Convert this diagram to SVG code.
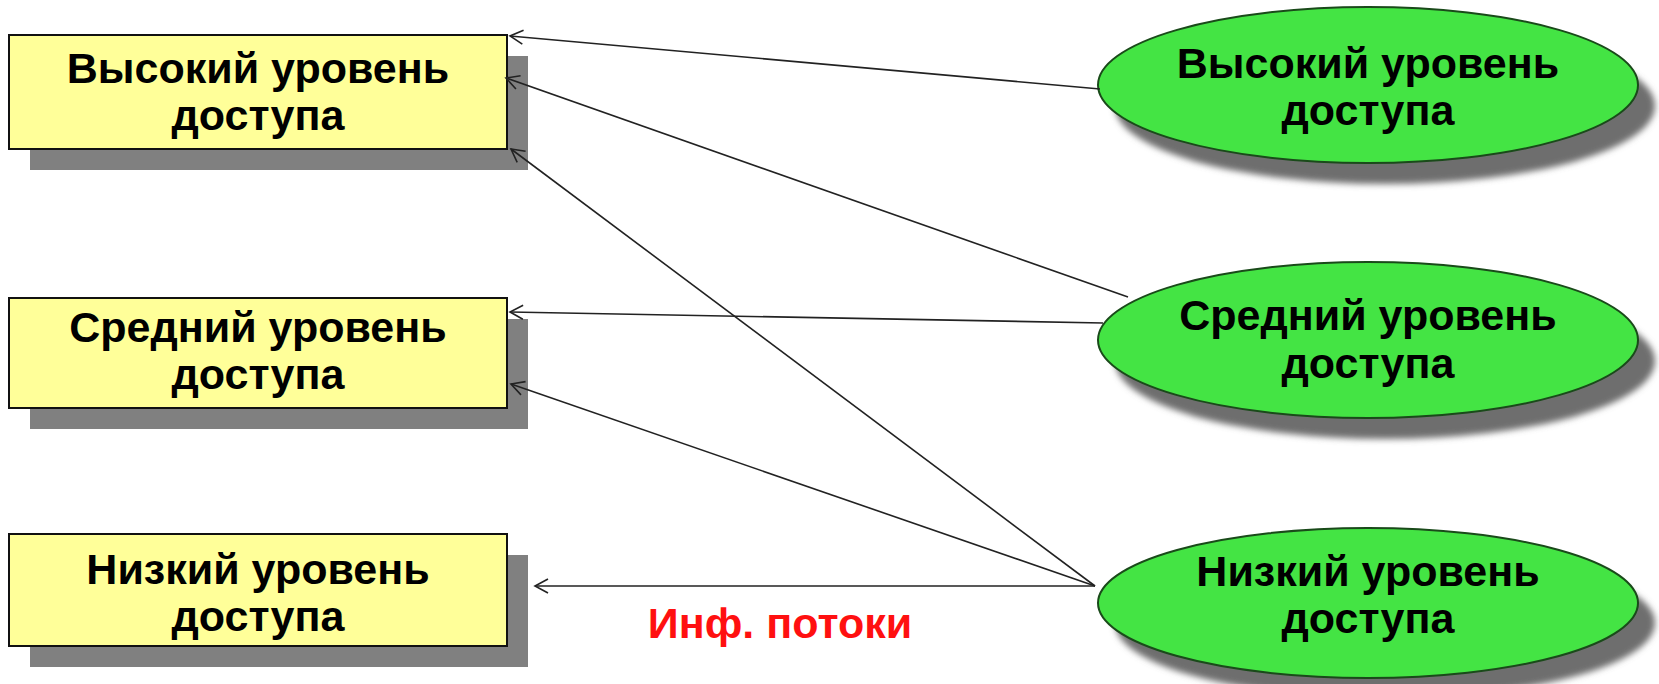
<svg xmlns="http://www.w3.org/2000/svg" width="1659" height="684" viewBox="0 0 1659 684">
  <style>
    .box { fill: #FFFF99; stroke: #111; stroke-width: 2; }
    .box-shadow { fill: #808080; }
    .oval { fill: #44E444; stroke: #1a4a1a; stroke-width: 2; }
    .oval-shadow { fill: #6e6e6e; }
    .lbl { font-family: "Liberation Sans", Arial, sans-serif; font-weight: bold; font-size: 43px; fill: #000; text-anchor: middle; }
    .note { font-family: "Liberation Sans", Arial, sans-serif; font-weight: bold; font-size: 43px; fill: #FF1010; text-anchor: middle; }
    .flow { fill: none; stroke: #222; stroke-width: 1.6; marker-end: url(#open-arrow); }
  </style>
  <defs>
    <marker id="open-arrow" markerUnits="userSpaceOnUse" viewBox="-16 -10 18 20" markerWidth="18" markerHeight="20" refX="0" refY="0" orient="auto">
      <path d="M-13,-7 L0,0 L-13,7" fill="none" stroke="#222" stroke-width="1.6"/>
    </marker>
    <filter id="soft" x="-10%" y="-20%" width="120%" height="140%">
      <feGaussianBlur stdDeviation="3"/>
    </filter>
  </defs>

  <rect width="1659" height="684" fill="#FFFFFF"/>

  <!-- access-level boxes (receivers) -->
  <g id="box-high">
    <rect class="box-shadow" x="30" y="56" width="498" height="114"/>
    <rect class="box" x="9" y="35" width="498" height="114"/>
    <text class="lbl" x="258" y="83">Высокий уровень</text>
    <text class="lbl" x="258" y="130">доступа</text>
  </g>
  <g id="box-mid">
    <rect class="box-shadow" x="30" y="319" width="498" height="110"/>
    <rect class="box" x="9" y="298" width="498" height="110"/>
    <text class="lbl" x="258" y="342">Средний уровень</text>
    <text class="lbl" x="258" y="389">доступа</text>
  </g>
  <g id="box-low">
    <rect class="box-shadow" x="30" y="555" width="498" height="112"/>
    <rect class="box" x="9" y="534" width="498" height="112"/>
    <text class="lbl" x="258" y="584">Низкий уровень</text>
    <text class="lbl" x="258" y="631">доступа</text>
  </g>

  <!-- access-level ovals (sources) -->
  <g id="oval-high">
    <ellipse class="oval-shadow" cx="1385" cy="106" rx="270" ry="78" filter="url(#soft)"/>
    <ellipse class="oval" cx="1368" cy="85" rx="270" ry="78"/>
    <text class="lbl" x="1368" y="78">Высокий уровень</text>
    <text class="lbl" x="1368" y="125">доступа</text>
  </g>
  <g id="oval-mid">
    <ellipse class="oval-shadow" cx="1385" cy="361" rx="270" ry="78" filter="url(#soft)"/>
    <ellipse class="oval" cx="1368" cy="340" rx="270" ry="78"/>
    <text class="lbl" x="1368" y="330">Средний уровень</text>
    <text class="lbl" x="1368" y="378">доступа</text>
  </g>
  <g id="oval-low">
    <ellipse class="oval-shadow" cx="1385" cy="623" rx="270" ry="75" filter="url(#soft)"/>
    <ellipse class="oval" cx="1368" cy="603" rx="270" ry="75"/>
    <text class="lbl" x="1368" y="586">Низкий уровень</text>
    <text class="lbl" x="1368" y="633">доступа</text>
  </g>

  <!-- information flows -->
  <g id="connectors">
    <line class="flow" x1="1100" y1="89" x2="510" y2="36"/>
    <line class="flow" x1="1128" y1="297" x2="506" y2="78"/>
    <line class="flow" x1="1095" y1="586" x2="511" y2="149"/>
    <line class="flow" x1="1103" y1="323" x2="510" y2="312"/>
    <line class="flow" x1="1095" y1="586" x2="511" y2="384"/>
    <line class="flow" x1="1095" y1="586" x2="535" y2="586"/>
  </g>

  <g id="flow-label">
    <text class="note" x="780" y="638">Инф. потоки</text>
  </g>
</svg>
